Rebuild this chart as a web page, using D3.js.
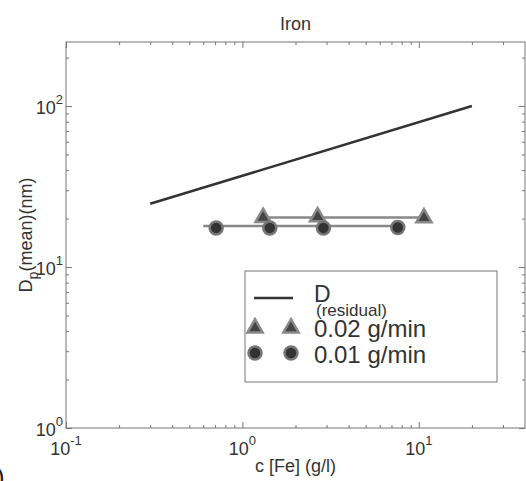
<!DOCTYPE html>
<html>
<head>
<meta charset="utf-8">
<script src="https://cdn.jsdelivr.net/npm/d3@7"></script>
<style>
   body { margin: 0; background: #fff; }
   svg { display: block; font-family: "Liberation Sans", Arial, sans-serif; }
</style>
</head>
<body>
<div id="chart"></div>
<script>

// AXIS TICKS
var xMajor = [0.1, 1, 10];
var xMajorExp = ['-1', '0', '1'];
var xMinor = [0.2, 0.3, 0.4, 0.5, 0.6, 0.7, 0.8, 0.9, 2, 3, 4, 5, 6, 7, 8, 9, 20, 30];
var yMajor = [1, 10, 100];
var yMajorExp = ['0', '1', '2'];
var yMinor = [2, 3, 4, 5, 6, 7, 8, 9, 20, 30, 40, 50, 60, 70, 80, 90, 200];

// D(RESIDUAL) LINE
var residualConc = [0.3, 20];
var residualDiam = [24.7, 100];

// 0.02 G/MIN SERIES
var feed02Conc = [1.31, 2.67, 10.7];
var feed02Diam = [20.6, 20.8, 20.5];
var feed02LineConc = [1.4, 10.7];
var feed02LineDiam = [20.3, 20.3];

// 0.01 G/MIN SERIES
var feed01Conc = [0.71, 1.43, 2.88, 7.6];
var feed01Diam = [17.5, 17.5, 17.5, 17.6];
var feed01LineConc = [0.6, 7.6];
var feed01LineDiam = [18.0, 18.0];

// CHART DIMENSIONS
var width = 526, height = 481;
var plot = { left: 66, right: 525, top: 42, bottom: 428 };

var svg = d3.select('#chart').append('svg')
   .attr('width', width)
   .attr('height', height);

// SCALES
var x = d3.scaleLog().domain([0.1, 40]).range([plot.left, plot.right]);
var y = d3.scaleLog().domain([1, 250]).range([plot.bottom, plot.top]);

// TICKS ON ALL FOUR SIDES, POINTING INWARD
function ticks(axis, values, size, transform) {
   var g = svg.append('g')
      .attr('transform', transform)
      .call(axis.tickValues(values).tickSizeInner(-size).tickSizeOuter(0).tickFormat(''));
   g.select('.domain').remove();
   g.selectAll('line').attr('stroke', '#777').attr('stroke-width', 1);
}

ticks(d3.axisBottom(x), xMajor, 6, 'translate(0,' + plot.bottom + ')');
ticks(d3.axisBottom(x), xMinor, 3, 'translate(0,' + plot.bottom + ')');
ticks(d3.axisTop(x), xMajor, 6, 'translate(0,' + plot.top + ')');
ticks(d3.axisTop(x), xMinor, 3, 'translate(0,' + plot.top + ')');
ticks(d3.axisLeft(y), yMajor, 6, 'translate(' + plot.left + ',0)');
ticks(d3.axisLeft(y), yMinor, 3, 'translate(' + plot.left + ',0)');
ticks(d3.axisRight(y), yMajor, 6, 'translate(' + plot.right + ',0)');
ticks(d3.axisRight(y), yMinor, 3, 'translate(' + plot.right + ',0)');

// AXES BOX
svg.append('rect')
   .attr('x', plot.left)
   .attr('y', plot.top)
   .attr('width', plot.right - plot.left)
   .attr('height', plot.bottom - plot.top)
   .attr('fill', 'none')
   .attr('stroke', '#777')
   .attr('stroke-width', 1);

// X TICK LABELS (10 WITH EXPONENT)
var xLabels = svg.selectAll('.xlab')
   .data(xMajor)
      .enter().append('text')
         .attr('class', 'xlab')
         .attr('x', (d) => { return x(d) })
         .attr('y', 455)
         .attr('text-anchor', 'middle')
         .attr('fill', '#333')
         .attr('font-size', 18);
xLabels.append('tspan').text('10');
xLabels.append('tspan')
   .attr('dy', -10)
   .attr('font-size', 13)
   .text((d, i) => { return xMajorExp[i] });

// Y TICK LABELS
var yLabels = svg.selectAll('.ylab')
   .data(yMajor)
      .enter().append('text')
         .attr('class', 'ylab')
         .attr('x', 63)
         .attr('y', (d) => { return y(d) + 8 })
         .attr('text-anchor', 'end')
         .attr('fill', '#333')
         .attr('font-size', 18);
yLabels.append('tspan').text('10');
yLabels.append('tspan')
   .attr('dy', -10)
   .attr('font-size', 13)
   .text((d, i) => { return yMajorExp[i] });

// TITLE + AXIS TITLES
svg.append('text')
   .attr('x', (plot.left + plot.right) / 2)
   .attr('y', 30)
   .attr('text-anchor', 'middle')
   .attr('fill', '#333')
   .attr('font-size', 18)
   .text('Iron');

svg.append('text')
   .attr('x', (plot.left + plot.right) / 2)
   .attr('y', 472)
   .attr('text-anchor', 'middle')
   .attr('fill', '#333')
   .attr('font-size', 18)
   .text('c [Fe] (g/l)');

var yTitle = svg.append('text')
   .attr('transform', 'translate(32,' + ((plot.top + plot.bottom) / 2) + ') rotate(-90)')
   .attr('text-anchor', 'middle')
   .attr('fill', '#333')
   .attr('font-size', 18);
yTitle.append('tspan').text('D');
yTitle.append('tspan').attr('dy', 6).attr('font-size', 14).text('p');
yTitle.append('tspan').attr('dy', -6).text('(mean)(nm)');

// STRAY PANEL MARK AT THE CORNER
svg.append('text')
   .attr('x', -4)
   .attr('y', 486)
   .attr('fill', '#222')
   .attr('font-size', 26)
   .text(')');

// LINE GENERATOR
var pathify = d3.line()
   .x((d) => { return x(d[0]) })
   .y((d) => { return y(d[1]) });

// D(RESIDUAL)
svg.append('path')
   .attr('fill', 'none')
   .attr('stroke', '#333')
   .attr('stroke-width', 2.5)
   .attr('d', pathify(d3.zip(residualConc, residualDiam)));

// SERIES LINES
svg.append('path')
   .attr('fill', 'none')
   .attr('stroke', '#888')
   .attr('stroke-width', 2.5)
   .attr('d', pathify(d3.zip(feed01LineConc, feed01LineDiam)));

svg.append('path')
   .attr('fill', 'none')
   .attr('stroke', '#888')
   .attr('stroke-width', 2.5)
   .attr('d', pathify(d3.zip(feed02LineConc, feed02LineDiam)));

// MARKERS
var triangle = d3.symbol().type(d3.symbolTriangle).size(100);

svg.selectAll('.tri')
   .data(d3.zip(feed02Conc, feed02Diam))
      .enter().append('path')
         .attr('class', 'tri')
         .attr('transform', (d) => { return 'translate(' + x(d[0]) + ',' + (y(d[1]) + 1) + ')' })
         .attr('d', triangle)
         .attr('fill', '#444')
         .attr('stroke', '#888')
         .attr('stroke-width', 2.5);

svg.selectAll('.dot')
   .data(d3.zip(feed01Conc, feed01Diam))
      .enter().append('circle')
         .attr('class', 'dot')
         .attr('cx', (d) => { return x(d[0]) })
         .attr('cy', (d) => { return y(d[1]) })
         .attr('r', 6.5)
         .attr('fill', '#333')
         .attr('stroke', '#777')
         .attr('stroke-width', 2.5);

// LEGEND
var legend = svg.append('g');

legend.append('rect')
   .attr('x', 245)
   .attr('y', 271)
   .attr('width', 252)
   .attr('height', 111)
   .attr('fill', '#fff')
   .attr('stroke', '#777')
   .attr('stroke-width', 1);

legend.append('line')
   .attr('x1', 254).attr('y1', 298)
   .attr('x2', 293).attr('y2', 298)
   .attr('stroke', '#333')
   .attr('stroke-width', 2.5);

var dLabel = legend.append('text')
   .attr('x', 314)
   .attr('y', 302)
   .attr('fill', '#333')
   .attr('font-size', 23);
dLabel.append('tspan').text('D');
dLabel.append('tspan')
   .attr('x', 316)
   .attr('dy', 14)
   .attr('font-size', 17)
   .text('(residual)');

[255, 291].forEach((lx) => {
   legend.append('path')
      .attr('transform', 'translate(' + lx + ',328)')
      .attr('d', triangle)
      .attr('fill', '#444')
      .attr('stroke', '#888')
      .attr('stroke-width', 2.5);
   legend.append('circle')
      .attr('cx', lx)
      .attr('cy', 353)
      .attr('r', 6.5)
      .attr('fill', '#333')
      .attr('stroke', '#777')
      .attr('stroke-width', 2.5);
});

legend.append('text')
   .attr('x', 314)
   .attr('y', 337)
   .attr('fill', '#333')
   .attr('font-size', 24)
   .text('0.02 g/min');

legend.append('text')
   .attr('x', 314)
   .attr('y', 363)
   .attr('fill', '#333')
   .attr('font-size', 24)
   .text('0.01 g/min');

</script>
</body>
</html>
